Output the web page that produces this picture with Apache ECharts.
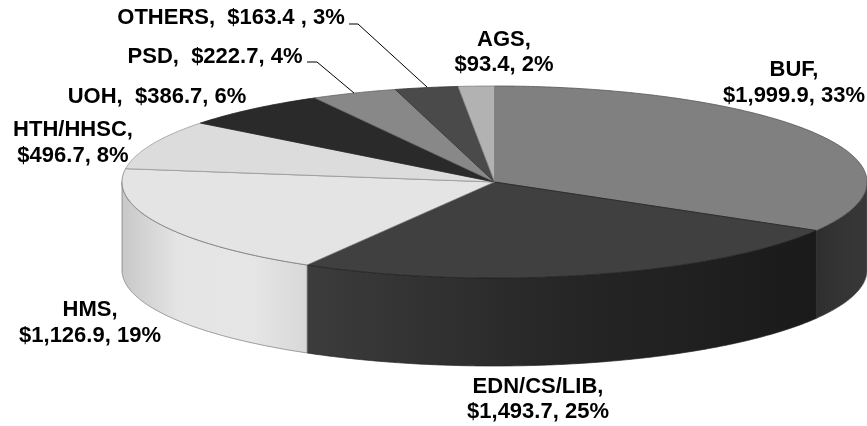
<!DOCTYPE html>
<html><head><meta charset="utf-8">
<style>html,body{margin:0;padding:0;background:#fff}#c{width:867px;height:426px}</style>
<script src="https://cdn.jsdelivr.net/npm/echarts@6/dist/echarts.min.js"></script>
</head><body><div id="c"></div>
<script>
var categories = ['BUF','EDN/CS/LIB','HMS','HTH/HHSC','UOH','PSD','OTHERS','AGS'];
var values = [1999.9,1493.7,1126.9,496.7,386.7,222.7,163.4,93.4];
var labelLines = [
  ['BUF,','$1,999.9, 33%'],
  ['EDN/CS/LIB,','$1,493.7, 25%'],
  ['HMS,','$1,126.9, 19%'],
  ['HTH/HHSC,','$496.7, 8%'],
  ['UOH,  $386.7, 6%'],
  ['PSD,  $222.7, 4%'],
  ['OTHERS,  $163.4 , 3%'],
  ['AGS,','$93.4, 2%']
];

var CX = 494.5, CY = 182, RX = 372.5, RY = 96, DEPTH = 88;
var topColors = ['#808080','#404040','#e4e4e4','#dcdcdc','#2a2a2a','#888888','#4a4a4a','#b2b2b2'];
var edgeColors = ['#555555','#222222','#777777','#999999','#222222','#666666','#333333','#808080'];
var sideStops = {
  0: [[0,'#2e2e2e'],[0.5,'#343434'],[1,'#383838']],
  1: [[0,'#3c3c3c'],[0.5,'#262626'],[1,'#1a1a1a']],
  2: [[0,'#c8c8c8'],[0.3,'#e4e4e4'],[0.7,'#e6e6e6'],[1,'#d8d8d8']]
};
var labelAnchor = [[794,70],[538,386.5],[90,310],[73,130],[157,97],[215,56.5],[231,17.5],[504,39.5]];
var labelGap = 25.5;
var leaders = {
  5: [[307,62],[317,62],[354,93]],
  6: [[349,24],[358,24],[427,87]]
};

var total = values.reduce(function(a,b){return a+b;},0);
var starts = [], acc = 0;
values.forEach(function(v){starts.push(acc/total*Math.PI*2);acc+=v;});

function pt(t,dy){return [CX+RX*Math.sin(t),CY-RY*Math.cos(t)+(dy||0)];}
function arc(a,b,dy){
  var n=Math.max(2,Math.ceil((b-a)/0.01)),out=[];
  for(var i=0;i<=n;i++){out.push(pt(a+(b-a)*i/n,dy));}
  return out;
}

function renderItem(params,api){
  var i=params.dataIndex;
  var a=starts[i], b=a+api.value(0)/total*Math.PI*2;
  var kids=[];
  var lo=Math.max(a,Math.PI/2), hi=Math.min(b,Math.PI*1.5);
  if(hi>lo && sideStops[i]){
    var topEdge=arc(lo,hi,0), botEdge=arc(lo,hi,DEPTH).reverse();
    var xs=topEdge.map(function(p){return p[0];});
    var x0=Math.min.apply(null,xs), x1=Math.max.apply(null,xs);
    kids.push({type:'polygon',shape:{points:topEdge.concat(botEdge)},
      style:{fill:new echarts.graphic.LinearGradient(x0,0,x1,0,
        sideStops[i].map(function(s){return {offset:s[0],color:s[1]};}),true),
        stroke:edgeColors[i],lineWidth:0.7}});
  }
  kids.push({type:'polygon',shape:{points:[[CX,CY]].concat(arc(a,b,0))},
    style:{fill:topColors[i],stroke:edgeColors[i],lineWidth:0.8},z2:5});
  var lines=labelLines[i], an=labelAnchor[i];
  lines.forEach(function(t,k){
    kids.push({type:'text',x:an[0],y:an[1]+k*labelGap,z2:10,
      style:{text:t,fill:'#000',font:'bold 22px "Liberation Sans", Arial, sans-serif',align:'center',verticalAlign:'middle'}});
  });
  if(leaders[i]){
    kids.push({type:'polyline',shape:{points:leaders[i]},z2:10,style:{stroke:'#000',fill:null,lineWidth:1}});
  }
  return {type:'group',children:kids};
}

var chart=echarts.init(document.getElementById('c'),null,{renderer:'canvas'});
chart.setOption({
  animation:false,
  backgroundColor:'#fff',
  series:[{
    type:'custom',
    coordinateSystem:'none',
    silent:true,
    clip:false,
    renderItem:renderItem,
    data:values.map(function(v,i){return {name:categories[i],value:[v]};})
  }]
});
</script></body></html>
